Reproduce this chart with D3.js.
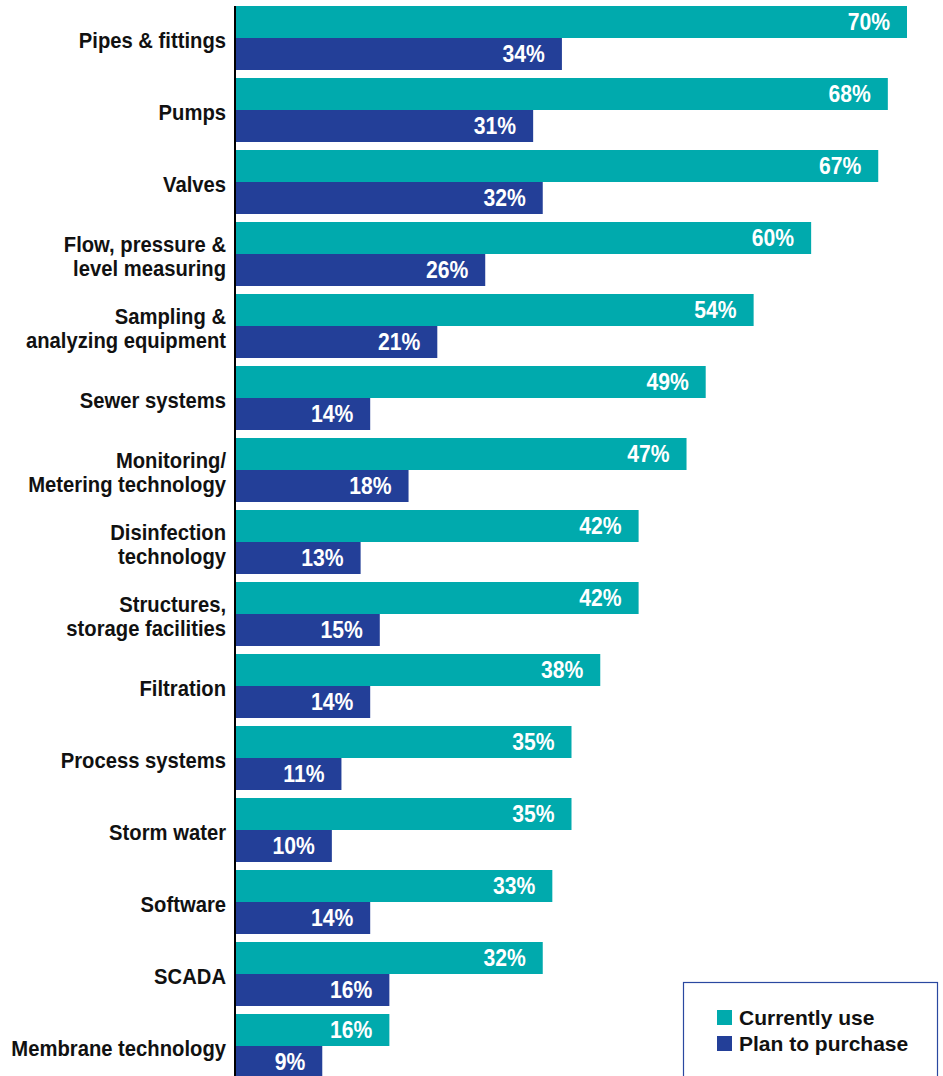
<!DOCTYPE html>
<html>
<head>
<meta charset="utf-8">
<script src="https://cdn.jsdelivr.net/npm/d3@7"></script>
<style>
  html, body { margin: 0; padding: 0; background: #fff; }
  svg { display: block; }
</style>
</head>
<body>
<svg id="chart" width="943" height="1076"></svg>
<script>
const categories = [
  "Pipes & fittings", "Pumps", "Valves", "Flow, pressure &|level measuring",
  "Sampling &|analyzing equipment", "Sewer systems", "Monitoring/|Metering technology",
  "Disinfection|technology", "Structures,|storage facilities", "Filtration",
  "Process systems", "Storm water", "Software", "SCADA", "Membrane technology"
];
const currentlyUse = [70, 68, 67, 60, 54, 49, 47, 42, 42, 38, 35, 35, 33, 32, 16];
const planToPurchase = [34, 31, 32, 26, 21, 14, 18, 13, 15, 14, 11, 10, 14, 16, 9];
const seriesNames = ["Currently use", "Plan to purchase"];
const seriesColors = ["#00aaad", "#233f98"];

const svg = d3.select("#chart");
const x0 = 236;
const x = d3.scaleLinear().domain([0, 70]).range([x0, 907]);
const y = d3.scaleBand().domain(categories).range([6, 1078]).paddingInner(8 / 72).paddingOuter(0);
const ys = d3.scaleBand().domain(seriesNames).range([0, y.bandwidth()]);
const color = d3.scaleOrdinal().domain(seriesNames).range(seriesColors);

const font = "'Liberation Sans', Arial, Helvetica, sans-serif";
const SX = 0.92;   // horizontal condensing to mimic a condensed bold face

const data = categories.map((c, i) => ({
  cat: c,
  values: [
    { s: seriesNames[0], v: currentlyUse[i] },
    { s: seriesNames[1], v: planToPurchase[i] }
  ]
}));

const groups = svg.append("g").selectAll("g").data(data).join("g")
  .attr("transform", d => `translate(0,${y(d.cat)})`);

groups.selectAll("rect").data(d => d.values).join("rect")
  .attr("x", x(0))
  .attr("y", d => ys(d.s))
  .attr("width", d => x(d.v) - x(0))
  .attr("height", ys.bandwidth())
  .attr("fill", d => color(d.s));

groups.selectAll("g.val").data(d => d.values).join("g")
  .attr("class", "val")
  .attr("transform", d => `translate(${x(d.v) - 17},${ys(d.s) + ys.bandwidth() / 2}) scale(${SX},1)`)
  .append("text")
  .attr("dy", "0.36em")
  .attr("text-anchor", "end")
  .attr("fill", "#fff")
  .style("font-family", font)
  .style("font-weight", "bold")
  .style("font-size", "23px")
  .text(d => d.v + "%");

// Axis with category labels
const axis = svg.append("g")
  .attr("transform", `translate(${x0 - 1},0)`)
  .call(d3.axisLeft(y).tickSize(0).tickPadding(9).tickSizeOuter(0));
axis.select(".domain").attr("stroke", "#000").attr("stroke-width", 2)
  .attr("d", `M0,6V1076`);
axis.selectAll(".tick text")
  .style("font-family", font)
  .style("font-weight", "bold")
  .style("font-size", "22px")
  .attr("fill", "#111")
  .attr("transform", `scale(${SX},1)`)
  .each(function(d) {
    const t = d3.select(this);
    const lines = d.split("|");
    t.text(null).attr("dy", null).attr("y", null).attr("x", null);
    const lh = 24;
    const start = -(lines.length - 1) * lh / 2 + 2;
    lines.forEach((ln, k) => {
      t.append("tspan").attr("x", -9 / SX).attr("y", start + k * lh).attr("dy", "0.36em").text(ln);
    });
  });

// Legend
const lg = svg.append("g");
lg.append("rect").attr("x", 683.5).attr("y", 982.5).attr("width", 254).attr("height", 120)
  .attr("fill", "#fff").attr("stroke", "#2a48a0").attr("stroke-width", 1.2);
seriesNames.forEach((s, i) => {
  lg.append("rect").attr("x", 717).attr("y", 1010 + i * 26).attr("width", 15).attr("height", 15)
    .attr("fill", color(s));
  lg.append("text").attr("x", 739).attr("y", 1025 + i * 26)
    .style("font-family", font)
    .style("font-weight", "bold").style("font-size", "21px").attr("fill", "#111")
    .text(s);
});
</script>
</body>
</html>
